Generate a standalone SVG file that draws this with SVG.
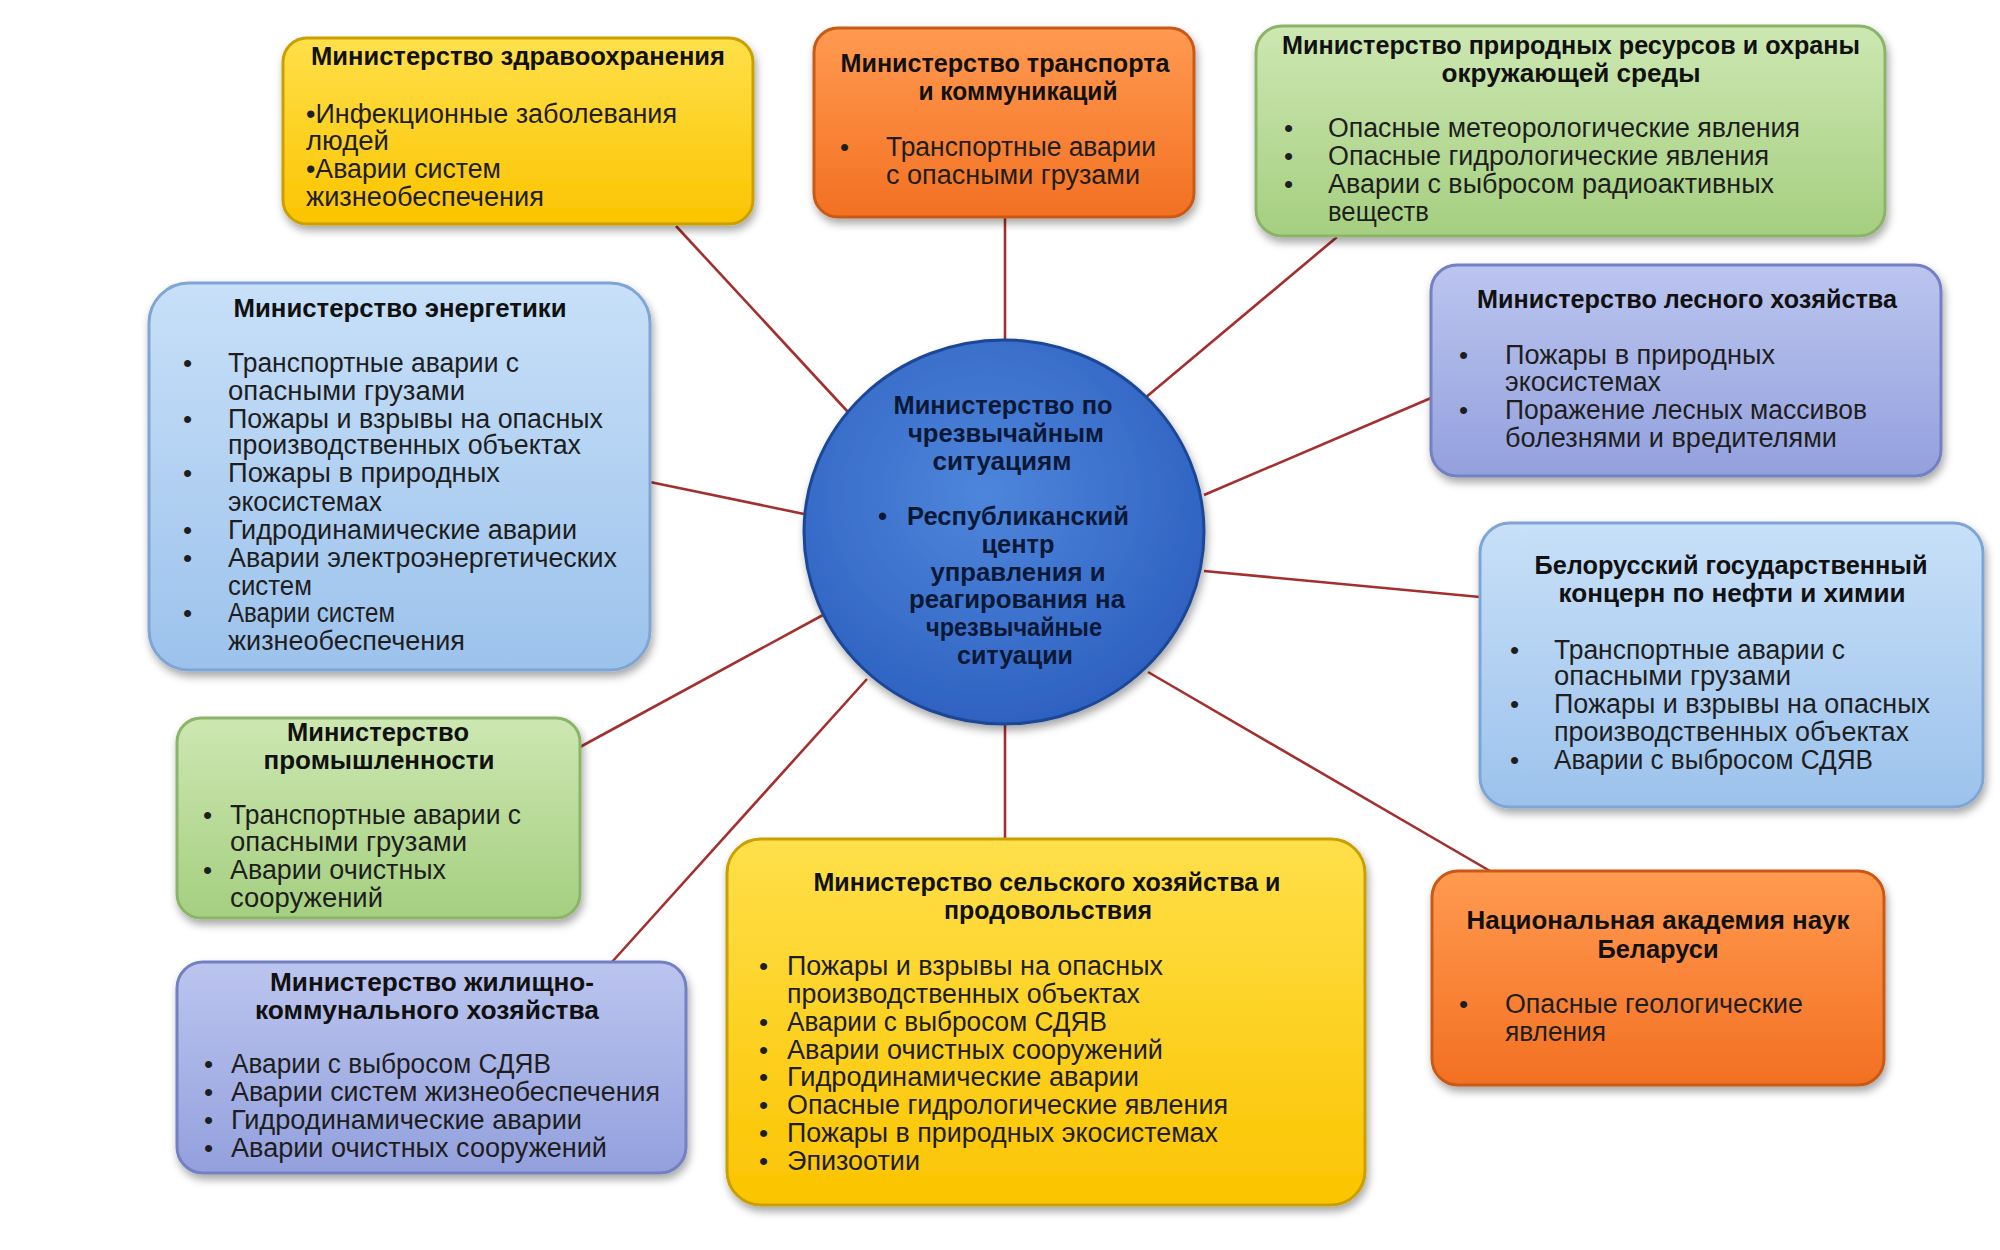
<svg xmlns="http://www.w3.org/2000/svg" width="2000" height="1250" viewBox="0 0 2000 1250">
<defs>
<style>
.t{font-family:"Liberation Sans","DejaVu Sans",sans-serif;font-size:26px;font-weight:bold;fill:#111;}
.i{font-family:"Liberation Sans","DejaVu Sans",sans-serif;font-size:27px;fill:#1e1e1e;}
.c{font-family:"Liberation Sans","DejaVu Sans",sans-serif;font-size:26px;font-weight:bold;fill:#0b1836;}
.b{font-family:"Liberation Sans","DejaVu Sans",sans-serif;font-size:26px;fill:#1e1e1e;}
.box{filter:url(#sh);stroke-width:3;}
.conn{stroke:#a3302e;stroke-width:2.6;fill:none;}
</style>
<filter id="sh" x="-10%" y="-10%" width="125%" height="130%">
<feDropShadow dx="2" dy="5" stdDeviation="4" flood-color="#000" flood-opacity="0.35"/>
</filter>
<linearGradient id="gY" x1="0" y1="0" x2="0" y2="1"><stop offset="0" stop-color="#ffe04a"/><stop offset="1" stop-color="#fbc400"/></linearGradient>
<linearGradient id="gO" x1="0" y1="0" x2="0" y2="1"><stop offset="0" stop-color="#ff9a50"/><stop offset="1" stop-color="#f37022"/></linearGradient>
<linearGradient id="gG" x1="0" y1="0" x2="0" y2="1"><stop offset="0" stop-color="#cde7b2"/><stop offset="1" stop-color="#a5cf80"/></linearGradient>
<linearGradient id="gB" x1="0" y1="0" x2="0" y2="1"><stop offset="0" stop-color="#c8e0f8"/><stop offset="1" stop-color="#9cc2ec"/></linearGradient>
<linearGradient id="gP" x1="0" y1="0" x2="0" y2="1"><stop offset="0" stop-color="#bcc5ef"/><stop offset="1" stop-color="#93a0dd"/></linearGradient>
<radialGradient id="gC" cx="0.45" cy="0.4" r="0.65"><stop offset="0" stop-color="#4f86dc"/><stop offset="1" stop-color="#2c5fbf"/></radialGradient>
</defs>
<rect width="2000" height="1250" fill="#fff"/>

<g id="connectors">
<line class="conn" x1="676" y1="226" x2="848" y2="412"/>
<line class="conn" x1="1005" y1="217" x2="1005" y2="342"/>
<line class="conn" x1="1337" y1="237" x2="1145" y2="398"/>
<line class="conn" x1="1431" y1="398" x2="1204" y2="495"/>
<line class="conn" x1="1480" y1="597" x2="1204" y2="571"/>
<line class="conn" x1="1490" y1="871" x2="1148" y2="672"/>
<line class="conn" x1="1005" y1="839" x2="1005" y2="723"/>
<line class="conn" x1="612" y1="962" x2="867" y2="679"/>
<line class="conn" x1="580" y1="747" x2="823" y2="615"/>
<line class="conn" x1="650" y1="482" x2="804" y2="514"/>
</g>

<g id="health">
<rect class="box" x="283" y="38" width="470" height="186" rx="24" fill="url(#gY)" stroke="#c9a000"/>
<text class="t" x="518" y="65" text-anchor="middle" textLength="414" lengthAdjust="spacingAndGlyphs">Министерство здравоохранения</text>
<text class="i" x="306" y="123" textLength="371" lengthAdjust="spacingAndGlyphs">•Инфекционные заболевания</text>
<text class="i" x="306" y="150" textLength="83" lengthAdjust="spacingAndGlyphs">людей</text>
<text class="i" x="306" y="178" textLength="195" lengthAdjust="spacingAndGlyphs">•Аварии систем</text>
<text class="i" x="306" y="206" textLength="238" lengthAdjust="spacingAndGlyphs">жизнеобеспечения</text>
</g>

<g id="transport">
<rect class="box" x="814" y="28" width="380" height="189" rx="24" fill="url(#gO)" stroke="#c95a18"/>
<text class="t" x="1005" y="72" text-anchor="middle" textLength="329" lengthAdjust="spacingAndGlyphs">Министерство транспорта</text>
<text class="t" x="1018" y="100" text-anchor="middle" textLength="199" lengthAdjust="spacingAndGlyphs">и коммуникаций</text>
<text class="b" x="840" y="156">•</text>
<text class="i" x="886" y="156" textLength="270" lengthAdjust="spacingAndGlyphs">Транспортные аварии</text>
<text class="i" x="886" y="184" textLength="254" lengthAdjust="spacingAndGlyphs">с опасными грузами</text>
</g>

<g id="nature">
<rect class="box" x="1256" y="26" width="629" height="210" rx="26" fill="url(#gG)" stroke="#8cb468"/>
<text class="t" x="1571" y="54" text-anchor="middle" textLength="578" lengthAdjust="spacingAndGlyphs">Министерство природных ресурсов и охраны</text>
<text class="t" x="1571" y="82" text-anchor="middle" textLength="259" lengthAdjust="spacingAndGlyphs">окружающей среды</text>
<text class="b" x="1284" y="137">•</text>
<text class="b" x="1284" y="165">•</text>
<text class="b" x="1284" y="193">•</text>
<text class="i" x="1328" y="137" textLength="472" lengthAdjust="spacingAndGlyphs">Опасные метеорологические явления</text>
<text class="i" x="1328" y="165" textLength="441" lengthAdjust="spacingAndGlyphs">Опасные гидрологические явления</text>
<text class="i" x="1328" y="193" textLength="446" lengthAdjust="spacingAndGlyphs">Аварии с выбросом радиоактивных</text>
<text class="i" x="1328" y="221" textLength="101" lengthAdjust="spacingAndGlyphs">веществ</text>
</g>

<g id="forestry">
<rect class="box" x="1431" y="265" width="510" height="211" rx="26" fill="url(#gP)" stroke="#7480c2"/>
<text class="t" x="1687" y="308" text-anchor="middle" textLength="420" lengthAdjust="spacingAndGlyphs">Министерство лесного хозяйства</text>
<text class="b" x="1459" y="364">•</text>
<text class="b" x="1459" y="419">•</text>
<text class="i" x="1505" y="364" textLength="270" lengthAdjust="spacingAndGlyphs">Пожары в природных</text>
<text class="i" x="1505" y="391" textLength="156" lengthAdjust="spacingAndGlyphs">экосистемах</text>
<text class="i" x="1505" y="419" textLength="362" lengthAdjust="spacingAndGlyphs">Поражение лесных массивов</text>
<text class="i" x="1505" y="447" textLength="332" lengthAdjust="spacingAndGlyphs">болезнями и вредителями</text>
</g>

<g id="concern">
<rect class="box" x="1480" y="523" width="503" height="284" rx="30" fill="url(#gB)" stroke="#7fa5d4"/>
<text class="t" x="1731" y="574" text-anchor="middle" textLength="393" lengthAdjust="spacingAndGlyphs">Белорусский государственный</text>
<text class="t" x="1732" y="602" text-anchor="middle" textLength="347" lengthAdjust="spacingAndGlyphs">концерн по нефти и химии</text>
<text class="b" x="1510" y="659">•</text>
<text class="b" x="1510" y="713">•</text>
<text class="b" x="1510" y="769">•</text>
<text class="i" x="1554" y="659" textLength="291" lengthAdjust="spacingAndGlyphs">Транспортные аварии с</text>
<text class="i" x="1554" y="685" textLength="237" lengthAdjust="spacingAndGlyphs">опасными грузами</text>
<text class="i" x="1554" y="713" textLength="376" lengthAdjust="spacingAndGlyphs">Пожары и взрывы на опасных</text>
<text class="i" x="1554" y="741" textLength="355" lengthAdjust="spacingAndGlyphs">производственных объектах</text>
<text class="i" x="1554" y="769" textLength="319" lengthAdjust="spacingAndGlyphs">Аварии с выбросом СДЯВ</text>
</g>

<g id="academy">
<rect class="box" x="1432" y="871" width="452" height="214" rx="26" fill="url(#gO)" stroke="#c95a18"/>
<text class="t" x="1658" y="929" text-anchor="middle" textLength="383" lengthAdjust="spacingAndGlyphs">Национальная академия наук</text>
<text class="t" x="1658" y="958" text-anchor="middle" textLength="121" lengthAdjust="spacingAndGlyphs">Беларуси</text>
<text class="b" x="1459" y="1013">•</text>
<text class="i" x="1505" y="1013" textLength="298" lengthAdjust="spacingAndGlyphs">Опасные геологические</text>
<text class="i" x="1505" y="1041" textLength="101" lengthAdjust="spacingAndGlyphs">явления</text>
</g>

<g id="agriculture">
<rect class="box" x="727" y="839" width="638" height="366" rx="34" fill="url(#gY)" stroke="#c9a000"/>
<text class="t" x="1047" y="891" text-anchor="middle" textLength="467" lengthAdjust="spacingAndGlyphs">Министерство сельского хозяйства и</text>
<text class="t" x="1048" y="919" text-anchor="middle" textLength="208" lengthAdjust="spacingAndGlyphs">продовольствия</text>
<text class="b" x="759" y="975">•</text>
<text class="b" x="759" y="1031">•</text>
<text class="b" x="759" y="1059">•</text>
<text class="b" x="759" y="1086">•</text>
<text class="b" x="759" y="1114">•</text>
<text class="b" x="759" y="1142">•</text>
<text class="b" x="759" y="1170">•</text>
<text class="i" x="787" y="975" textLength="376" lengthAdjust="spacingAndGlyphs">Пожары и взрывы на опасных</text>
<text class="i" x="787" y="1003" textLength="353" lengthAdjust="spacingAndGlyphs">производственных объектах</text>
<text class="i" x="787" y="1031" textLength="320" lengthAdjust="spacingAndGlyphs">Аварии с выбросом СДЯВ</text>
<text class="i" x="787" y="1059" textLength="376" lengthAdjust="spacingAndGlyphs">Аварии очистных сооружений</text>
<text class="i" x="787" y="1086" textLength="352" lengthAdjust="spacingAndGlyphs">Гидродинамические аварии</text>
<text class="i" x="787" y="1114" textLength="441" lengthAdjust="spacingAndGlyphs">Опасные гидрологические явления</text>
<text class="i" x="787" y="1142" textLength="431" lengthAdjust="spacingAndGlyphs">Пожары в природных экосистемах</text>
<text class="i" x="787" y="1170" textLength="133" lengthAdjust="spacingAndGlyphs">Эпизоотии</text>
</g>

<g id="housing">
<rect class="box" x="177" y="962" width="509" height="211" rx="26" fill="url(#gP)" stroke="#7480c2"/>
<text class="t" x="432" y="991" text-anchor="middle" textLength="324" lengthAdjust="spacingAndGlyphs">Министерство жилищно-</text>
<text class="t" x="427" y="1019" text-anchor="middle" textLength="344" lengthAdjust="spacingAndGlyphs">коммунального хозяйства</text>
<text class="b" x="204" y="1073">•</text>
<text class="b" x="204" y="1101">•</text>
<text class="b" x="204" y="1129">•</text>
<text class="b" x="204" y="1157">•</text>
<text class="i" x="231" y="1073" textLength="320" lengthAdjust="spacingAndGlyphs">Аварии с выбросом СДЯВ</text>
<text class="i" x="231" y="1101" textLength="429" lengthAdjust="spacingAndGlyphs">Аварии систем жизнеобеспечения</text>
<text class="i" x="231" y="1129" textLength="351" lengthAdjust="spacingAndGlyphs">Гидродинамические аварии</text>
<text class="i" x="231" y="1157" textLength="376" lengthAdjust="spacingAndGlyphs">Аварии очистных сооружений</text>
</g>

<g id="industry">
<rect class="box" x="177" y="718" width="403" height="200" rx="24" fill="url(#gG)" stroke="#8cb468"/>
<text class="t" x="378" y="741" text-anchor="middle" textLength="182" lengthAdjust="spacingAndGlyphs">Министерство</text>
<text class="t" x="379" y="769" text-anchor="middle" textLength="231" lengthAdjust="spacingAndGlyphs">промышленности</text>
<text class="b" x="203" y="824">•</text>
<text class="b" x="203" y="879">•</text>
<text class="i" x="230" y="824" textLength="291" lengthAdjust="spacingAndGlyphs">Транспортные аварии с</text>
<text class="i" x="230" y="851" textLength="237" lengthAdjust="spacingAndGlyphs">опасными грузами</text>
<text class="i" x="230" y="879" textLength="216" lengthAdjust="spacingAndGlyphs">Аварии очистных</text>
<text class="i" x="230" y="907" textLength="153" lengthAdjust="spacingAndGlyphs">сооружений</text>
</g>

<g id="energy">
<rect class="box" x="149" y="283" width="501" height="387" rx="40" fill="url(#gB)" stroke="#7fa5d4"/>
<text class="t" x="400" y="317" text-anchor="middle" textLength="333" lengthAdjust="spacingAndGlyphs">Министерство энергетики</text>
<text class="b" x="183" y="372">•</text>
<text class="b" x="183" y="428">•</text>
<text class="b" x="183" y="482">•</text>
<text class="b" x="183" y="539">•</text>
<text class="b" x="183" y="567">•</text>
<text class="b" x="183" y="622">•</text>
<text class="i" x="228" y="372" textLength="291" lengthAdjust="spacingAndGlyphs">Транспортные аварии с</text>
<text class="i" x="228" y="400" textLength="237" lengthAdjust="spacingAndGlyphs">опасными грузами</text>
<text class="i" x="228" y="428" textLength="375" lengthAdjust="spacingAndGlyphs">Пожары и взрывы на опасных</text>
<text class="i" x="228" y="454" textLength="353" lengthAdjust="spacingAndGlyphs">производственных объектах</text>
<text class="i" x="228" y="482" textLength="272" lengthAdjust="spacingAndGlyphs">Пожары в природных</text>
<text class="i" x="228" y="511" textLength="154" lengthAdjust="spacingAndGlyphs">экосистемах</text>
<text class="i" x="228" y="539" textLength="349" lengthAdjust="spacingAndGlyphs">Гидродинамические аварии</text>
<text class="i" x="228" y="567" textLength="389" lengthAdjust="spacingAndGlyphs">Аварии электроэнергетических</text>
<text class="i" x="228" y="595" textLength="84" lengthAdjust="spacingAndGlyphs">систем</text>
<text class="i" x="228" y="622" textLength="167" lengthAdjust="spacingAndGlyphs">Аварии систем</text>
<text class="i" x="228" y="650" textLength="237" lengthAdjust="spacingAndGlyphs">жизнеобеспечения</text>
</g>

<g id="mchs">
<ellipse cx="1004" cy="532" rx="200" ry="192" fill="url(#gC)" stroke="#1d4796" stroke-width="3" style="filter:url(#sh)"/>
<text class="c" x="1003" y="414" text-anchor="middle" textLength="219" lengthAdjust="spacingAndGlyphs">Министерство по</text>
<text class="c" x="1006" y="442" text-anchor="middle" textLength="196" lengthAdjust="spacingAndGlyphs">чрезвычайным</text>
<text class="c" x="1002" y="470" text-anchor="middle" textLength="139" lengthAdjust="spacingAndGlyphs">ситуациям</text>
<text class="c" x="878" y="525">•</text>
<text class="c" x="1018" y="525" text-anchor="middle" textLength="222" lengthAdjust="spacingAndGlyphs">Республиканский</text>
<text class="c" x="1018" y="553" text-anchor="middle" textLength="73" lengthAdjust="spacingAndGlyphs">центр</text>
<text class="c" x="1018" y="581" text-anchor="middle" textLength="175" lengthAdjust="spacingAndGlyphs">управления и</text>
<text class="c" x="1017" y="608" text-anchor="middle" textLength="216" lengthAdjust="spacingAndGlyphs">реагирования на</text>
<text class="c" x="1014" y="636" text-anchor="middle" textLength="176" lengthAdjust="spacingAndGlyphs">чрезвычайные</text>
<text class="c" x="1015" y="664" text-anchor="middle" textLength="116" lengthAdjust="spacingAndGlyphs">ситуации</text>
</g>
</svg>
